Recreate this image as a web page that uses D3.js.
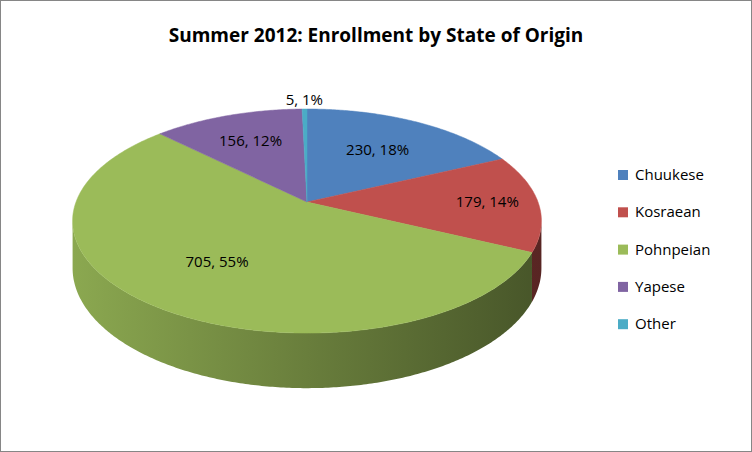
<!DOCTYPE html>
<html><head><meta charset="utf-8">
<script src="https://cdn.jsdelivr.net/npm/d3@7"></script>
<style>body{margin:0;background:#fff}svg{display:block}</style>
</head><body>
<svg id="chart" width="752" height="452"></svg>
<script>
// data
var categories = ['Chuukese', 'Kosraean', 'Pohnpeian', 'Yapese', 'Other'];
var values = [230, 179, 705, 156, 5];
var percents = ['18%', '14%', '55%', '12%', '1%'];
var colors = ['#4f81bd', '#c0504d', '#9bbb59', '#8064a2', '#4bacc6'];

var svg = d3.select('#chart');
var W = 752, H = 452;

svg.append('rect').attr('x', 0.5).attr('y', 0.5).attr('width', W - 1).attr('height', H - 1)
	.attr('fill', '#fff').attr('stroke', '#868686');

svg.append('text').attr('x', 376).attr('y', 42).attr('text-anchor', 'middle')
	.attr('font-family', 'Open Sans, Liberation Sans, sans-serif').attr('font-weight', 'bold')
	.attr('font-size', 19).text('Summer 2012: Enrollment by State of Origin');

// perspective projection of a unit disk
var cx = 307, cy = 202, R = 231, Hy = 108.8, k = 0.17, depth = 45.7;
function proj(r, a, dz) {
	var u = r * Math.sin(a), v = -r * Math.cos(a);
	var f = 1 / (1 - k * v);
	return [cx + R * u * f, cy + Hy * v * f + (dz || 0) * depth * f];
}

var pie = d3.pie().sort(null).startAngle(0).endAngle(2 * Math.PI);
var arcs = pie(values);

// silhouette angles (extreme x)
var aR = 0, aL = 0, maxX = -1e9, minX = 1e9;
d3.range(0, 2 * Math.PI, 0.002).forEach(function(a) {
	var p = proj(1, a);
	if (p[0] > maxX) { maxX = p[0]; aR = a; }
	if (p[0] < minX) { minX = p[0]; aL = a; }
});

var defs = svg.append('defs');
colors.forEach(function(c, i) {
	var g = defs.append('linearGradient').attr('id', 'side' + i)
		.attr('gradientUnits', 'userSpaceOnUse').attr('x1', minX).attr('x2', maxX).attr('y1', 0).attr('y2', 0);
	var base = d3.color(c);
	g.append('stop').attr('offset', 0).attr('stop-color', base.darker(0.3));
	g.append('stop').attr('offset', 0.5).attr('stop-color', base.darker(1.1));
	g.append('stop').attr('offset', 1).attr('stop-color', base.darker(2.2));
});

var line = d3.line();

// side walls
arcs.forEach(function(d, i) {
	var a0 = Math.max(d.startAngle, aR), a1 = Math.min(d.endAngle, aL);
	if (a1 <= a0) return;
	var top = d3.range(a0, a1, 0.01).concat([a1]).map(function(a) { return proj(1, a, 0); });
	var bot = d3.range(a0, a1, 0.01).concat([a1]).map(function(a) { return proj(1, a, 1); }).reverse();
	svg.append('path').attr('d', line(top.concat(bot)) + 'Z').attr('fill', 'url(#side' + i + ')');
});

// top faces
arcs.forEach(function(d, i) {
	var pts = [proj(0, 0)].concat(d3.range(d.startAngle, d.endAngle, 0.01).concat([d.endAngle])
		.map(function(a) { return proj(1, a); }));
	svg.append('path').attr('d', line(pts) + 'Z').attr('fill', colors[i])
		.attr('stroke', colors[i]).attr('stroke-width', 0.5);
});

// labels
var labelR = [0.62, 0.78, 0.62, 0.68, 1.12];
arcs.forEach(function(d, i) {
	var p = proj(labelR[i], (d.startAngle + d.endAngle) / 2);
	svg.append('text').attr('x', p[0]).attr('y', p[1] + 5).attr('text-anchor', 'middle')
		.attr('font-family', 'Open Sans, Liberation Sans, sans-serif').attr('font-size', 15)
		.attr('fill', '#000').text(values[i] + ', ' + percents[i]);
});

// legend
var lg = svg.append('g').selectAll('g').data(categories).enter().append('g')
	.attr('transform', function(d, i) { return 'translate(618,' + (170 + i * 37.3) + ')'; });
lg.append('rect').attr('width', 10).attr('height', 10).attr('fill', function(d, i) { return colors[i]; });
lg.append('text').attr('x', 17).attr('y', 10).attr('font-family', 'Open Sans, Liberation Sans, sans-serif')
	.attr('font-size', 15).text(function(d) { return d; });
</script>
</body></html>
